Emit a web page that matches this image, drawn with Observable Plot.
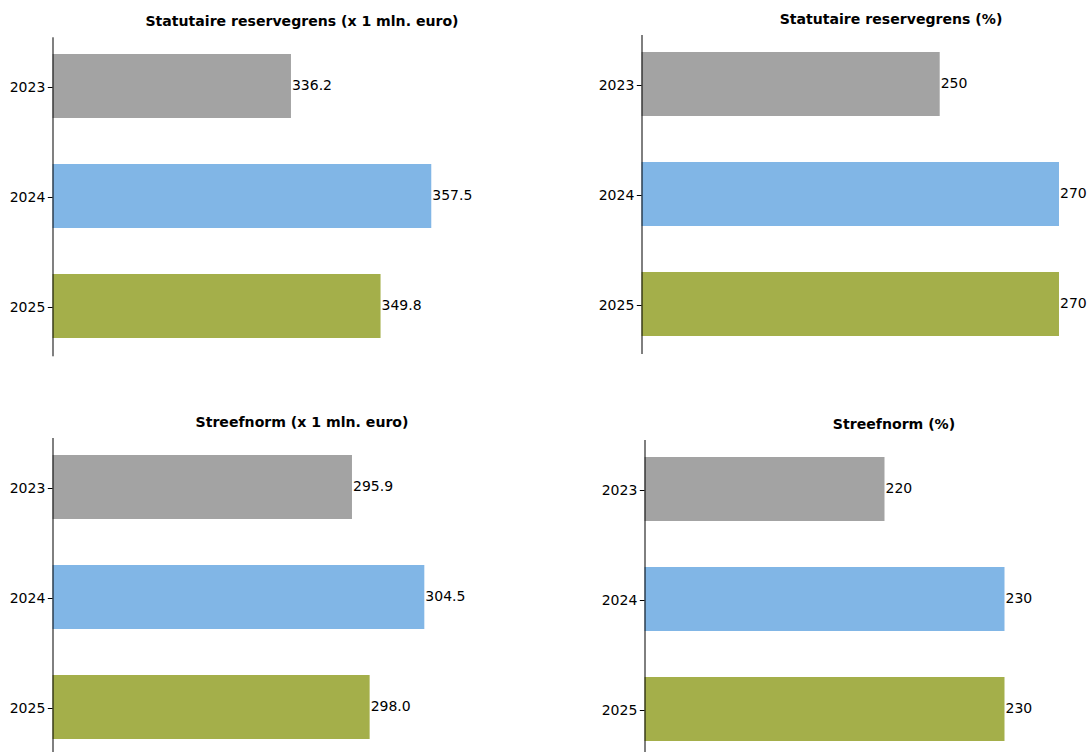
<!DOCTYPE html>
<html>
<head>
<meta charset="utf-8">
<script src="https://cdn.jsdelivr.net/npm/d3@7"></script>
<script src="https://cdn.jsdelivr.net/npm/@observablehq/plot@0.6"></script>
<style>
  html, body { margin: 0; padding: 0; background: #fff; overflow: hidden; }
  #root { position: relative; width: 1088px; height: 752px; overflow: hidden; background: #fff; }
  .panel { position: absolute; }
  .panel svg { overflow: visible; max-width: none !important; }
</style>
</head>
<body>
<div id="root"></div>
<script>
// ---- data ----
const years = ["2023", "2024", "2025"];
const reserveAmount = [336.2, 357.5, 349.8];
const reservePct = [250, 270, 270];
const targetAmount = [295.9, 304.5, 298.0];
const targetPct = [220, 230, 230];
const titles = [
  "Statutaire reservegrens (x 1 mln. euro)",
  "Statutaire reservegrens (%)",
  "Streefnorm (x 1 mln. euro)",
  "Streefnorm (%)"
];
const barColors = ["#a3a3a3", "#81b6e6", "#a4af4a"];
const xLimits = [[300, 375.6], [200, 283.5], [260.3, 319.5], [200, 241.5]];
const decimals = [1, 0, 1, 0];

// ---- layout per panel ----
const panels = [
  {values: reserveAmount, left: 0,     top: 0,   marginTop: 37.3},
  {values: reservePct,    left: 588.5, top: 0,   marginTop: 35},
  {values: targetAmount,  left: 0,     top: 400, marginTop: 38},
  {values: targetPct,     left: 591.8, top: 400, marginTop: 40}
];

const root = document.getElementById("root");
const ML = 52.5, FW = 498, FH = 318;
const FS = 14;

panels.forEach((p, i) => {
  const data = years.map((y, k) => ({year: y, v: p.values[k]}));
  const [lo, hi] = xLimits[i];
  const fmt = v => v.toFixed(decimals[i]);
  const chart = Plot.plot({
    width: ML + FW + 60,
    height: p.marginTop + FH + 5,
    marginLeft: ML,
    marginRight: 60,
    marginTop: p.marginTop,
    marginBottom: 5,
    style: {fontFamily: "'DejaVu Sans', sans-serif", fontSize: FS + "px", color: "#000", background: "transparent"},
    x: {domain: [lo, hi], axis: null},
    y: {domain: years, paddingInner: 0.415, paddingOuter: 0.14, align: 0.5, axis: null},
    color: {domain: years, range: barColors},
    marks: [
      Plot.barX(data, {x1: lo, x2: "v", y: "year", fill: "year"}),
      Plot.text(data, {x: "v", y: "year", text: d => fmt(d.v), textAnchor: "start", dx: 0.5, dy: -1, fill: "#000", fontSize: FS}),
      Plot.frame({anchor: "left", stroke: "#000", strokeWidth: 1}),
      Plot.axisY({tickSize: 4.7, tickPadding: 3, label: null, fontSize: FS, dy: 1, stroke: "#000", fill: "#000"}),
      Plot.text([titles[i]], {frameAnchor: "top", lineAnchor: "bottom", dy: -11.5, fontWeight: "bold", fontSize: 14.1, fill: "#000"})
    ]
  });
  const div = document.createElement("div");
  div.className = "panel";
  div.style.left = p.left + "px";
  div.style.top = p.top + "px";
  div.appendChild(chart);
  root.appendChild(div);
});
</script>
</body>
</html>
